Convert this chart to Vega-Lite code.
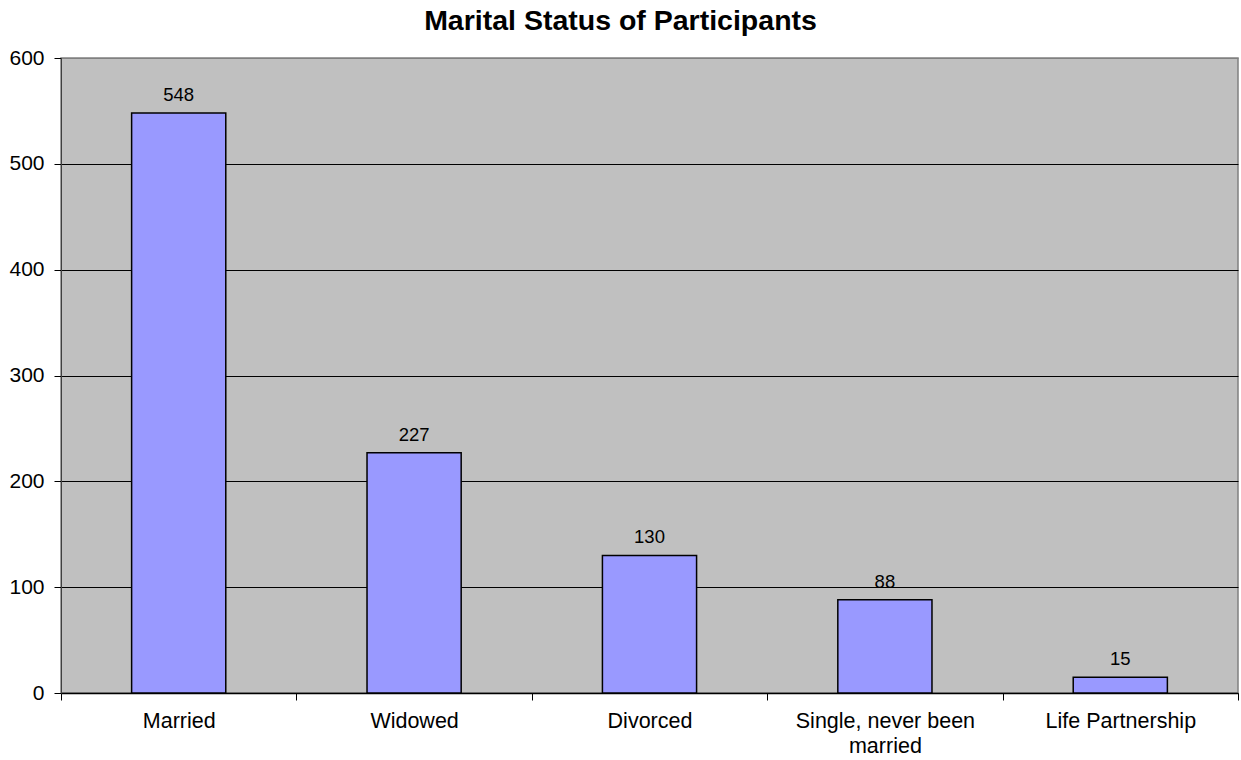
{
  "$schema": "https://vega.github.io/schema/vega-lite/v6.json",
  "autosize": "none",
  "width": 1177,
  "height": 635,
  "padding": {"left": 61, "top": 58, "right": 3, "bottom": 67},
  "background": "white",
  "title": {
    "text": "Marital Status of Participants",
    "font": "Liberation Sans",
    "fontSize": 28.5,
    "fontWeight": "bold",
    "color": "black",
    "anchor": "middle",
    "frame": "group",
    "dx": -29,
    "dy": 4,
    "offset": 16
  },
  "config": {
    "view": {"fill": "#C0C0C0", "stroke": "#808080", "strokeWidth": 1.5},
    "font": "Liberation Sans"
  },
  "data": {
    "values": [
      {"status": "Married", "count": 548},
      {"status": "Widowed", "count": 227},
      {"status": "Divorced", "count": 130},
      {"status": "Single, never been married", "count": 88},
      {"status": "Life Partnership", "count": 15}
    ]
  },
  "encoding": {
    "x": {
      "field": "status",
      "type": "nominal",
      "sort": null,
      "scale": {"paddingInner": 0, "paddingOuter": 0},
      "axis": {
        "title": null,
        "labelAngle": 0,
        "labelFont": "Liberation Sans",
        "labelFontSize": 21.5,
        "labelColor": "black",
        "labelPadding": 10,
        "labelLineHeight": 25,
        "labelExpr": "datum.value == 'Single, never been married' ? ['Single, never been', 'married'] : datum.value",
        "tickBand": "extent",
        "tickSize": 7,
        "tickColor": "black",
        "domainColor": "black",
        "domainWidth": 1.5,
        "grid": false
      }
    },
    "y": {
      "field": "count",
      "type": "quantitative",
      "scale": {"domain": [0, 600], "nice": false},
      "axis": {
        "title": null,
        "values": [0, 100, 200, 300, 400, 500, 600],
        "labelFont": "Liberation Sans",
        "labelFontSize": 21,
        "labelColor": "black",
        "labelPadding": 10,
        "tickSize": 7,
        "tickColor": "black",
        "domainColor": "#404040",
        "grid": true,
        "gridColor": {"condition": {"test": "datum.value == 600", "value": "#808080"}, "value": "black"},
        "gridWidth": 1,
        "gridOpacity": 1
      }
    }
  },
  "layer": [
    {
      "mark": {"type": "bar", "width": {"band": 0.4}, "fill": "#9999FF", "stroke": "black", "strokeWidth": 1.5}
    },
    {
      "mark": {"type": "text", "baseline": "alphabetic", "dy": -12, "fontSize": 18.5, "font": "Liberation Sans", "color": "black"},
      "encoding": {"text": {"field": "count", "type": "quantitative"}}
    }
  ]
}
